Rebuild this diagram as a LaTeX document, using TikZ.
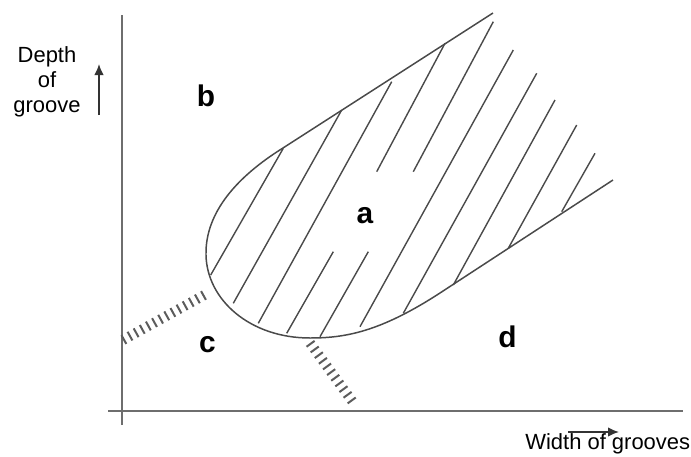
\documentclass[tikz,border=0pt]{standalone}
\usepackage{fontspec}
\setsansfont{Liberation Sans}
\usetikzlibrary{arrows.meta}
\definecolor{linegray}{HTML}{4A4A4A}
\definecolor{axisgray}{HTML}{6E6E6E}

\begin{document}
\begin{tikzpicture}[
    x=0.02cm, y=-0.02cm,
    font=\sffamily\fontsize{12.5}{14.2}\selectfont,
    boundary/.style={draw=linegray, line width=0.85pt},
    hatchline/.style={draw=linegray, line width=0.8pt},
    axisline/.style={draw=axisgray, line width=1.2pt},
    bandline/.style={draw=linegray!90, line width=0.2cm, dash pattern=on 0.04cm off 0.1cm},
    dirarrow/.style={draw=black!80, line width=0.85pt, -{Latex[length=0.22cm, width=0.19cm]}},
    region/.style={font=\sffamily\bfseries\fontsize{17}{19}\selectfont, inner sep=0pt, anchor=base},
    axlabel/.style={inner sep=0pt, align=center}
]

\useasboundingbox (0,0) rectangle (691,457);

% axes
\coordinate (yaxtop) at (122,15);
\coordinate (yaxbot) at (122,425);
\coordinate (xaxleft) at (108,411);
\coordinate (xaxright) at (683,411);
\draw[axisline] (yaxbot) -- (yaxtop);
\draw[axisline] (xaxleft) -- (xaxright);

% axis labels
\node[axlabel] (ylabel) at (47,81.7) {Depth\\of\\groove};
\coordinate (yarrlow) at (99,115);
\coordinate (yarrtip) at (99,64);
\draw[dirarrow] (yarrlow) -- (yarrtip);

\node[axlabel, anchor=base west] (xlabel) at (525,449) {Width of grooves};
\coordinate (xarrlow) at (568,432);
\coordinate (xarrtip) at (619,432);
\draw[dirarrow] (xarrlow) -- (xarrtip);

% boundary of region a
\draw[boundary] (493,13) -- (283,148)
    .. controls (238,176) and (205,212) .. (206,255)
    .. controls (207,300) and (250,338) .. (310,338)
    .. controls (345,338) and (380,332) .. (440,293) -- (613,180);

% hatching
\foreach \xa/\ya/\xb/\yb in {210.7/275/283.3/148.3, 233.3/303.3/341.7/110,
    258.3/323.3/391.7/81.7, 286.7/333.3/333.3/251.7, 376.7/171.7/445/43.3,
    320/336.7/368.3/251.7, 413.3/171.7/493.3/21.7, 360/326.7/513.3/50,
    403.3/313.3/536.7/73.3, 453.3/285/555/100, 508.3/248.3/576.7/125,
    561.7/211.7/595/153.3}
  \draw[hatchline] (\xa,\ya) -- (\xb,\yb);

% transition bands
\draw[bandline] (123,340) -- (208,293);
\draw[bandline] (310,343) -- (355,405);

% region labels
\node[region] (rega) at (365,223) {a};
\node[region] (regb) at (206,106) {b};
\node[region] (regc) at (207.5,352) {c};
\node[region] (regd) at (507.5,347) {d};

\end{tikzpicture}
\end{document}
